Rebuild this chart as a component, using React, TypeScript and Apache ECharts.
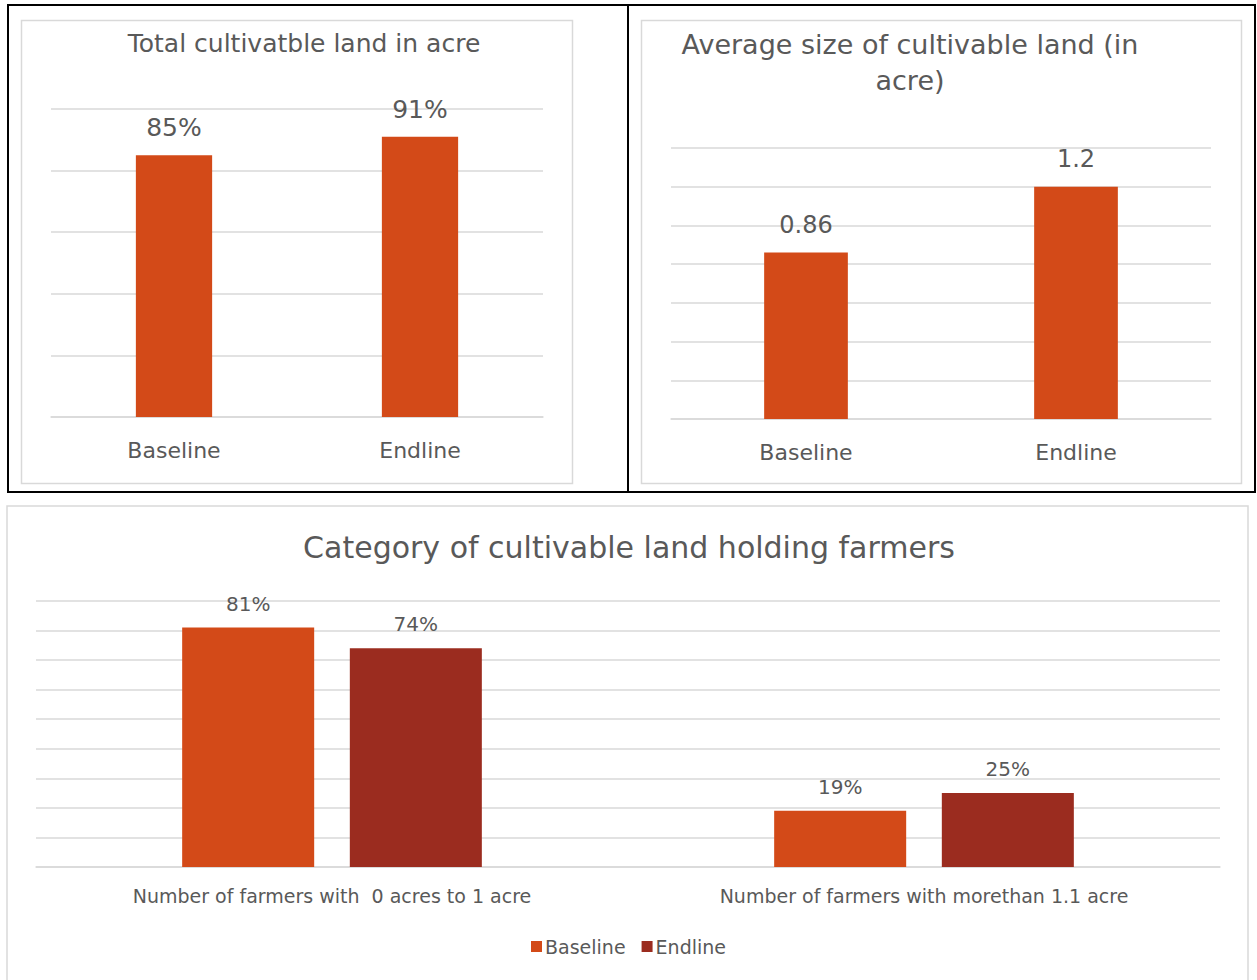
import React, { useEffect, useRef } from "react";
import * as echarts from "echarts";

const topCategories = ["Baseline", "Endline"];
const totalLandPct = [85, 91];
const avgLandSize = [0.86, 1.2];
const bottomCategories = [
  "Number of farmers with  0 acres to 1 acre",
  "Number of farmers with morethan 1.1 acre",
];
const baselinePct = [81, 19];
const endlinePct = [74, 25];

const ORANGE = "#D34A18";
const DARKRED = "#9B2C1F";
const TEXT = "#595959";
const GRIDC = "#D9D9D9";
const FONT = "'DejaVu Sans', sans-serif";

export default function App() {
  const ref = useRef<HTMLDivElement>(null);
  useEffect(() => {
    if (!ref.current) return;
    const chart = echarts.init(ref.current, null, { renderer: "svg" });
    const W = 1257, H = 980;
    const catAxis = (gridIndex: number, data: string[], fontSize: number, margin: number) => ({
      type: "category",
      gridIndex,
      data,
      axisLine: { lineStyle: { color: GRIDC, width: 1.5 } },
      axisTick: { show: false },
      axisLabel: { color: TEXT, fontSize, margin, fontFamily: FONT },
    });
    const valAxis = (gridIndex: number, max: number, interval: number) => ({
      type: "value",
      gridIndex,
      min: 0,
      max,
      interval,
      axisLine: { show: false },
      axisTick: { show: false },
      axisLabel: { show: false },
      splitLine: { lineStyle: { color: GRIDC, width: 1.5 } },
    });
    const option: any = {
      animation: false,
      backgroundColor: "#fff",
      textStyle: { fontFamily: FONT },
      graphic: [
        { type: "rect", shape: { x: 8, y: 5, width: 620, height: 487 }, style: { fill: "none", stroke: "#000", lineWidth: 2 } },
        { type: "rect", shape: { x: 628, y: 5, width: 627, height: 487 }, style: { fill: "none", stroke: "#000", lineWidth: 2 } },
        { type: "rect", shape: { x: 21.5, y: 20.5, width: 551, height: 463 }, style: { fill: "none", stroke: GRIDC, lineWidth: 1.5 } },
        { type: "rect", shape: { x: 641.5, y: 20.5, width: 600, height: 463 }, style: { fill: "none", stroke: GRIDC, lineWidth: 1.5 } },
        { type: "rect", shape: { x: 7, y: 506, width: 1241, height: 490 }, style: { fill: "none", stroke: GRIDC, lineWidth: 1.5 } },
      ],
      title: [
        {
          text: "Total cultivatble land in acre",
          left: 299, top: 26, textAlign: "center",
          textStyle: { color: TEXT, fontSize: 25, fontWeight: "normal", fontFamily: FONT },
        },
        {
          text: "Average size of cultivable land (in\nacre)",
          left: 905, top: 21, textAlign: "center",
          textStyle: { color: TEXT, fontSize: 27, lineHeight: 36, fontWeight: "normal", fontFamily: FONT },
        },
        {
          text: "Category of cultivable land holding farmers",
          left: 624, top: 527, textAlign: "center",
          textStyle: { color: TEXT, fontSize: 30, fontWeight: "normal", fontFamily: FONT },
        },
      ],
      legend: {
        data: ["Baseline", "Endline"],
        left: "center",
        top: 932,
        icon: "rect",
        itemWidth: 11,
        itemHeight: 11,
        itemGap: 16,
        textStyle: { color: TEXT, fontSize: 19, fontFamily: FONT, padding: [0, 0, 0, -2] },
      },
      grid: [
        { left: 51, right: W - 543, top: 109, bottom: H - 417 },
        { left: 671, right: W - 1211, top: 148, bottom: H - 419 },
        { left: 36, right: W - 1220, top: 601, bottom: H - 867 },
      ],
      xAxis: [
        catAxis(0, topCategories, 22, 22),
        catAxis(1, topCategories, 22, 22),
        catAxis(2, bottomCategories, 19, 19),
      ],
      yAxis: [valAxis(0, 100, 20), valAxis(1, 1.4, 0.2), valAxis(2, 90, 10)],
      series: [
        {
          name: "Total land",
          type: "bar",
          xAxisIndex: 0, yAxisIndex: 0,
          data: totalLandPct,
          barWidth: "31%",
          itemStyle: { color: ORANGE },
          label: { show: true, position: "top", distance: 15, formatter: "{c}%", color: TEXT, fontSize: 25, fontFamily: FONT },
        },
        {
          name: "Average size",
          type: "bar",
          xAxisIndex: 1, yAxisIndex: 1,
          data: avgLandSize,
          barWidth: "31%",
          itemStyle: { color: ORANGE },
          label: { show: true, position: "top", distance: 16, formatter: "{c}", color: TEXT, fontSize: 24, fontFamily: FONT },
        },
        {
          name: "Baseline",
          type: "bar",
          xAxisIndex: 2, yAxisIndex: 2,
          data: baselinePct,
          barWidth: "22.3%",
          barGap: "27%",
          itemStyle: { color: ORANGE },
          label: { show: true, position: "top", distance: 14, formatter: "{c}%", color: TEXT, fontSize: 20, fontFamily: FONT },
        },
        {
          name: "Endline",
          type: "bar",
          xAxisIndex: 2, yAxisIndex: 2,
          data: endlinePct,
          barWidth: "22.3%",
          barGap: "27%",
          itemStyle: { color: DARKRED },
          label: { show: true, position: "top", distance: 14, formatter: "{c}%", color: TEXT, fontSize: 20, fontFamily: FONT },
        },
      ],
    };
    chart.setOption(option);
    return () => chart.dispose();
  }, []);
  return (
    <div
      ref={ref}
      style={{ position: "fixed", left: 0, top: 0, width: 1257, height: 980 }}
    />
  );
}
